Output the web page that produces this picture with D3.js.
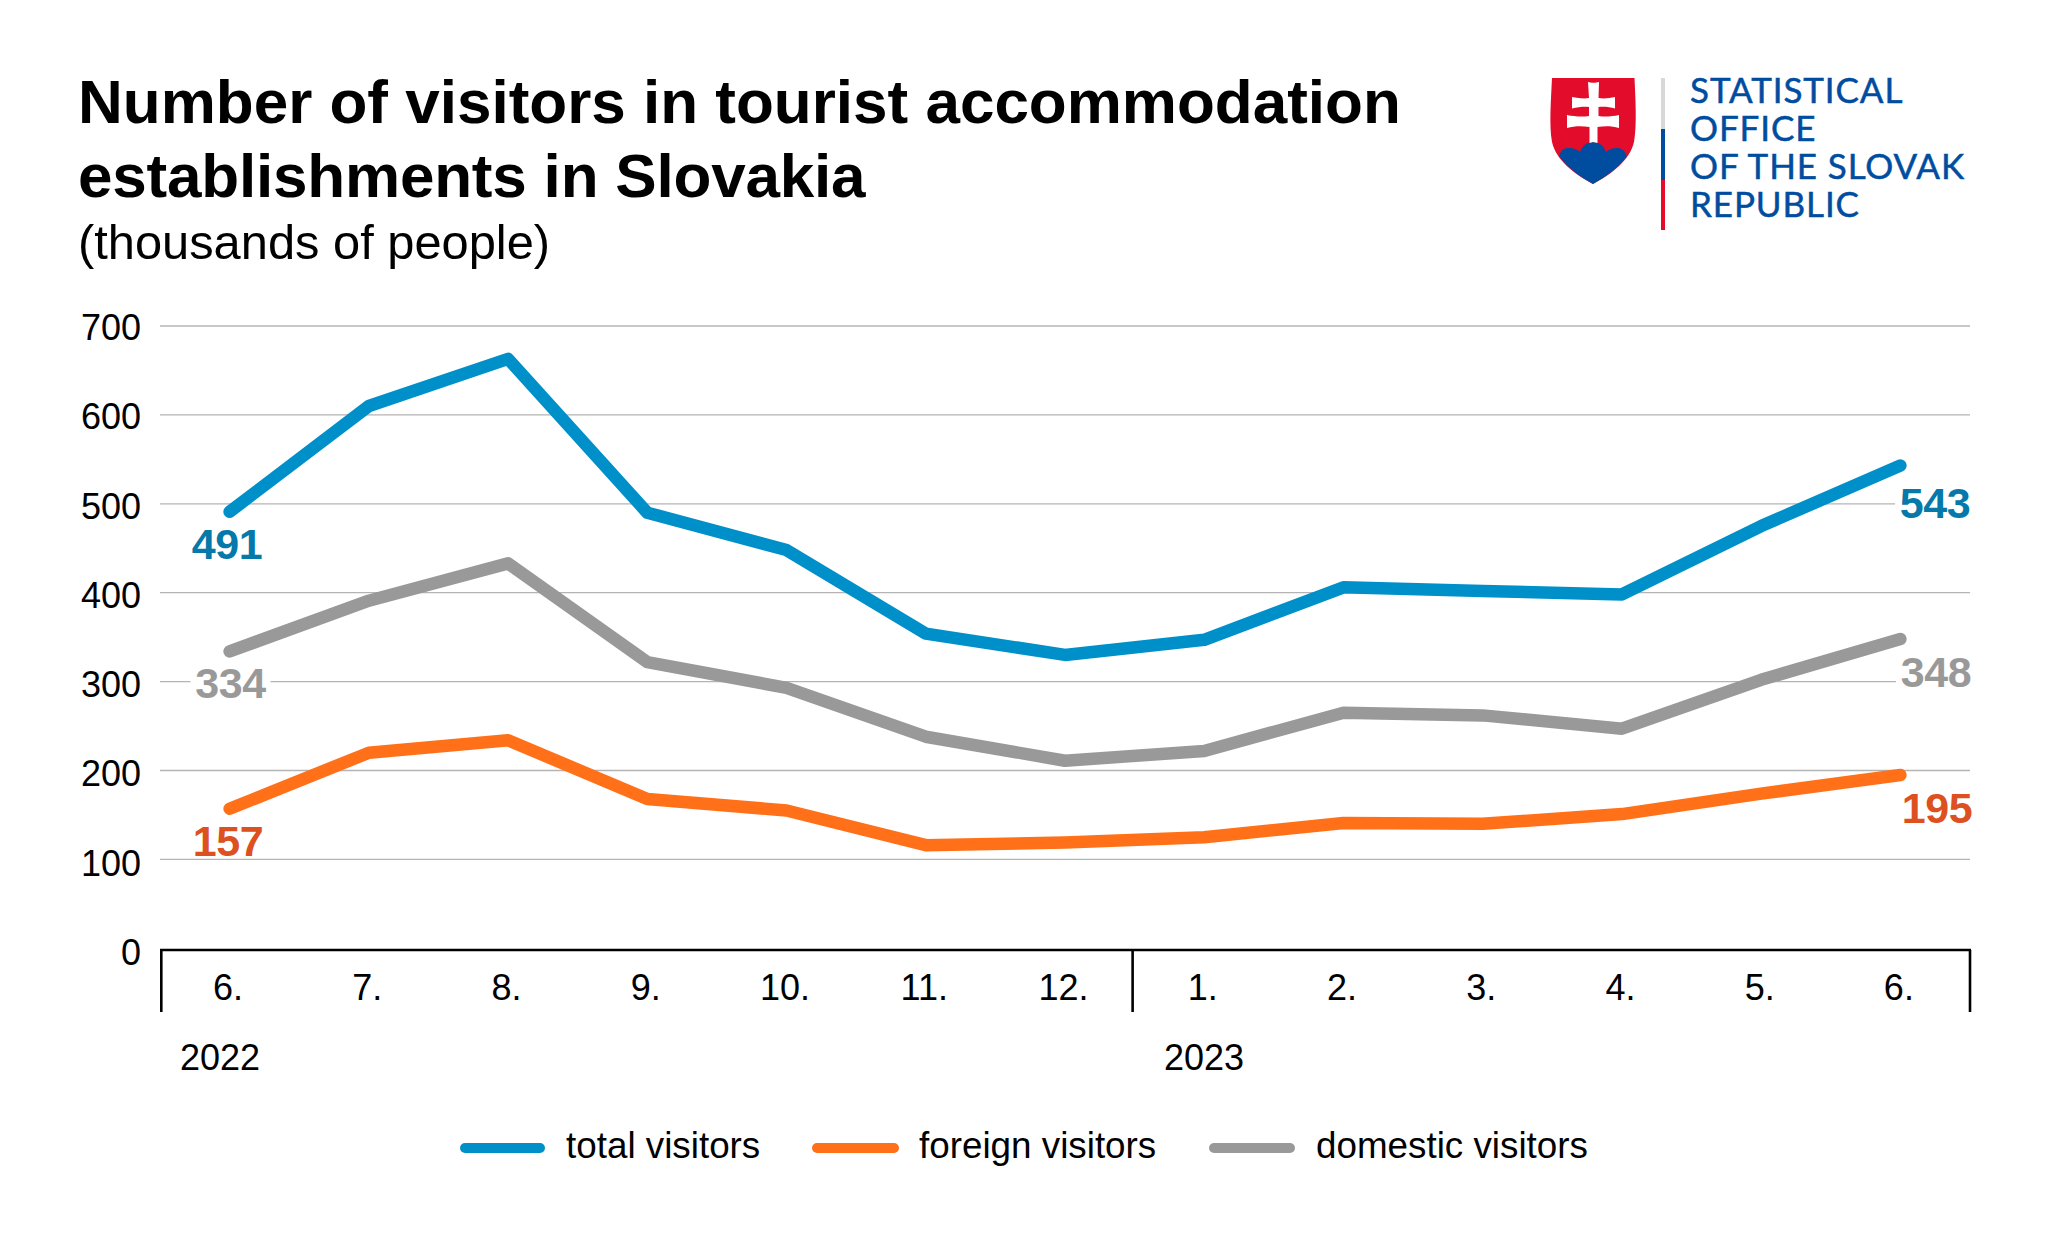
<!DOCTYPE html>
<html><head><meta charset="utf-8">
<script src="https://cdn.jsdelivr.net/npm/d3@7/dist/d3.min.js"></script>
<style>html,body{margin:0;background:#fff}svg{display:block}text{font-family:"Liberation Sans",Arial,sans-serif}</style>
</head><body><svg id="c" width="2048" height="1241"></svg>
<script>
const months=["6.","7.","8.","9.","10.","11.","12.","1.","2.","3.","4.","5.","6."];
const total=[491,610,663,490,448,354,330,347,406,402,398,475,543];
const foreign=[157,220,234,168,155,116,119,125,141,140,151,174,195];
const domestic=[334,391,433,322,293,238,211,222,265,262,247,302,348];
const yTicks=[0,100,200,300,400,500,600,700];
const keys=months.map((m,i)=>i);
const svg=d3.select("#c");
const x=d3.scaleBand().domain(keys).range([160,1970]);
const y=d3.scaleLinear().domain([0,700]).range([948.300,326]);
const yLabel=d3.scaleLinear().domain([0,700]).range([965,340]);
const cx=i=>x(i)+x.bandwidth()/2;
const axisY=950;
// grid
svg.append("g").selectAll("line").data(yTicks.slice(1)).join("line")
 .attr("x1",160).attr("x2",1970).attr("y1",d=>y(d)).attr("y2",d=>y(d)).attr("stroke","#b4b4b4").attr("stroke-width",1.3);
svg.append("g").selectAll("text").data(yTicks).join("text")
 .attr("x",141).attr("y",d=>yLabel(d)).attr("text-anchor","end").attr("font-size",36).text(d=>d);
// axis
const ax=svg.append("g").attr("stroke","#000").attr("stroke-width",2.6);
ax.append("line").attr("x1",160).attr("x2",1971).attr("y1",axisY).attr("y2",axisY);
[[0,1.300],[7,-2],[13,0]].forEach(([i,o])=>{const px=(i<13?x(i):x.range()[1])+o;ax.append("line").attr("x1",px).attr("x2",px).attr("y1",axisY).attr("y2",1012);});
svg.append("g").selectAll("text").data(keys).join("text").attr("x",i=>cx(i)-1.500).attr("y",1000).attr("text-anchor","middle").attr("font-size",36).text(i=>months[i]);
const years=[["2022",220],["2023",1204]];
svg.append("g").selectAll("text").data(years).join("text").attr("x",d=>d[1]).attr("y",1069.500).attr("text-anchor","middle").attr("font-size",36).text(d=>d[0]);
// lines
const line=d3.line().x((d,i)=>cx(i)).y(d=>y(d));
const series=[[total,"#0090c9","#0579a9",[227,559],[1935,518]],
 [domestic,"#999999","#999999",[230.500,698],[1936,687]],
 [foreign,"#ff7018","#dd5020",[228,856],[1937,823]]];
const labelW=70, labelH=31;
series.forEach(s=>{
 [s[3],s[4]].forEach(p=>svg.append("rect").attr("x",p[0]-labelW/2-5).attr("y",p[1]-labelH).attr("width",labelW+10).attr("height",labelH+1).attr("fill","#fff"));
});
series.forEach(s=>{
 svg.append("path").attr("d",line(s[0])).attr("fill","none").attr("stroke",s[1]).attr("stroke-width",12.500).attr("stroke-linecap","round").attr("stroke-linejoin","round");
});
series.forEach(s=>{
 [[0,s[3]],[12,s[4]]].forEach(([i,p])=>svg.append("text").attr("x",p[0]).attr("y",p[1]).attr("text-anchor","middle").attr("font-size",43).attr("font-weight",700).attr("letter-spacing",-0.4).attr("fill",s[2]).text(s[0][i]));
});
// title
svg.append("text").attr("x",78).attr("y",123).attr("font-size",62).attr("font-weight",700).text("Number of visitors in tourist accommodation");
svg.append("text").attr("x",78).attr("y",197).attr("font-size",62).attr("font-weight",700).attr("letter-spacing",-0.2).text("establishments in Slovakia");
svg.append("text").attr("x",78).attr("y",259).attr("font-size",48.800).text("(thousands of people)");
// legend
const legend=[["total visitors","#0090c9",465,540,566],["foreign visitors","#ff7018",817,894,919],["domestic visitors","#999999",1214,1290,1316]];
legend.forEach(l=>{
 svg.append("line").attr("x1",l[2]).attr("x2",l[3]).attr("y1",1148).attr("y2",1148).attr("stroke",l[1]).attr("stroke-width",10).attr("stroke-linecap","round");
 svg.append("text").attr("x",l[4]).attr("y",1158).attr("font-size",36.800).text(l[0]);
});
// logo
const logo=svg.append("g");
logo.append("path").attr("d","M1552 78H1634.500C1635.500 100 1637 125 1634 142C1630 160 1612 174 1593 184C1574 174 1556 160 1552 142C1549 125 1551 100 1552 78Z").attr("fill","#e30d2b");
logo.append("path").attr("d","M1559 156C1561 150 1564 148 1568 148C1574 148 1578 150 1580 152C1582 146 1587 142 1593 142C1599 142 1604 146 1606 152C1608 150 1612 148 1617 148C1622 148 1625 151 1627 156C1618 168 1607 176 1593 184C1579 176 1568 168 1559 156Z").attr("fill","#004da0");
logo.append("path").attr("d","M1588 82C1591 83 1596 83 1599 82L1598.500 98C1604 99 1610 98 1615 97V108.500C1610 107 1604 106.500 1598.500 107V116C1605 117 1612 116.500 1619 115V128C1612 126 1605 126 1597.500 127V143L1593 142L1589.500 143V127C1582 126 1574 126 1567 128V115C1574 116.500 1582 117 1589 116V107C1584 106.500 1578 107 1572 108.500V97C1578 98 1584 99 1589 98Z").attr("fill","#fff");
[["#d6d8da",78,129],["#004da0",129,180],["#e30d2b",180,230]].forEach(b=>logo.append("rect").attr("x",1661).attr("y",b[1]).attr("width",4).attr("height",b[2]-b[1]).attr("fill",b[0]));
["STATISTICAL","OFFICE","OF THE SLOVAK","REPUBLIC"].forEach((t,i)=>logo.append("text").attr("x",1690).attr("y",103+i*38).attr("font-size",35).attr("fill","#004da0").attr("stroke","#004da0").attr("stroke-width",0.5).attr("style","font-family:Lato").attr("letter-spacing",0.9).text(t));
</script></body></html>
